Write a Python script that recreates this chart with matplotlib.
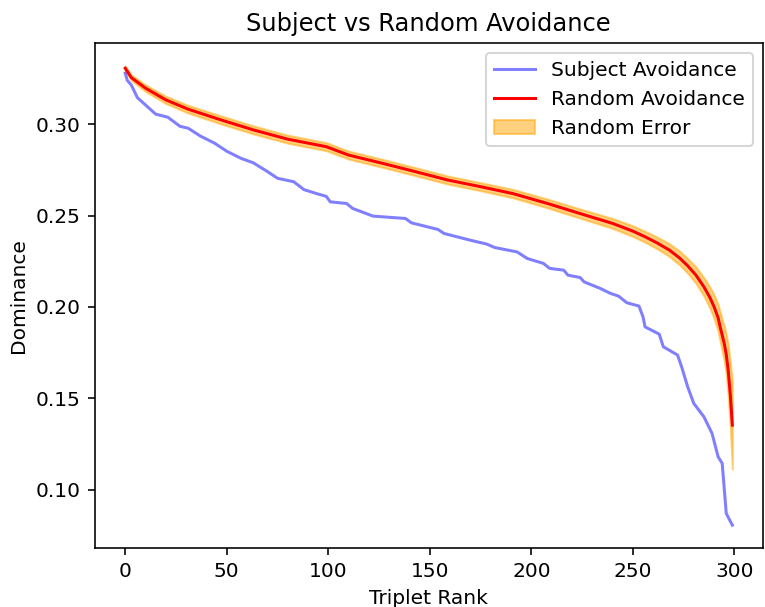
import matplotlib
matplotlib.use('Agg')
import matplotlib.pyplot as plt
import numpy as np

# values
subject_rank = [0, 1, 3, 6, 10, 15, 21, 27, 31, 37, 44, 50, 57, 63, 70, 75, 83, 88,
                94, 99, 101, 109, 112, 122, 138, 141, 154, 157, 170, 178, 182, 193,
                198, 206, 209, 216, 218, 224, 226, 234, 239, 243, 247, 253, 255, 256,
                263, 265, 272, 274, 277, 280, 285, 289, 292, 294, 296, 299]
subject_dom = [0.3279, 0.3240, 0.3214, 0.3145, 0.3105, 0.3055, 0.3038, 0.2988, 0.2978,
               0.2935, 0.2896, 0.2852, 0.2813, 0.2789, 0.2741, 0.2704, 0.2685, 0.2642,
               0.2621, 0.2605, 0.2575, 0.2566, 0.2539, 0.2497, 0.2484, 0.2460, 0.2424,
               0.2402, 0.2365, 0.2344, 0.2325, 0.2301, 0.2265, 0.2238, 0.2211, 0.2201,
               0.2174, 0.2161, 0.2137, 0.2101, 0.2074, 0.2059, 0.2023, 0.2005, 0.1946,
               0.1891, 0.1851, 0.1782, 0.1737, 0.1673, 0.1563, 0.1472, 0.1399, 0.1308,
               0.1180, 0.1144, 0.0870, 0.0806]

random_rank = [0, 3, 10, 20, 31, 47, 63, 80, 99, 110, 127, 143, 159, 175, 191, 208,
               224, 240, 250, 256, 262, 268, 273, 277, 281, 285, 288, 290, 292, 293,
               295, 296, 297, 298, 299]
random_dom = [0.3306, 0.3255, 0.3197, 0.3133, 0.3082, 0.3024, 0.2969, 0.2918, 0.2877,
              0.2831, 0.2785, 0.2740, 0.2694, 0.2658, 0.2620, 0.2566, 0.2511, 0.2457,
              0.2415, 0.2384, 0.2350, 0.2311, 0.2268, 0.2225, 0.2175, 0.2110, 0.2050,
              0.2001, 0.1940, 0.1891, 0.1800, 0.1740, 0.1650, 0.1520, 0.1353]
random_err = [0.0012, 0.0015, 0.0018, 0.0020, 0.0021, 0.0022, 0.0022, 0.0022, 0.0022,
              0.0022, 0.0022, 0.0022, 0.0022, 0.0022, 0.0023, 0.0024, 0.0025, 0.0027,
              0.0029, 0.0030, 0.0032, 0.0035, 0.0038, 0.0040, 0.0045, 0.0050, 0.0058,
              0.0065, 0.0073, 0.0080, 0.0095, 0.0110, 0.0140, 0.0180, 0.0240]

random_dom = np.array(random_dom)
random_err = np.array(random_err)

fig, ax = plt.subplots(figsize=(765 / 145, 607 / 145), dpi=145)
fig.subplots_adjust(left=0.124, right=0.997, top=0.929, bottom=0.097)

ax.plot(subject_rank, subject_dom, color='blue', alpha=0.5, label='Subject Avoidance')
ax.plot(random_rank, random_dom, color='red', label='Random Avoidance')
ax.fill_between(random_rank, random_dom - random_err, random_dom + random_err,
                color='orange', alpha=0.5, label='Random Error')

ax.set_title('Subject vs Random Avoidance')
ax.set_xlabel('Triplet Rank')
ax.set_ylabel('Dominance')
ax.legend(loc='upper right')

fig.savefig('out.png', dpi=145)
